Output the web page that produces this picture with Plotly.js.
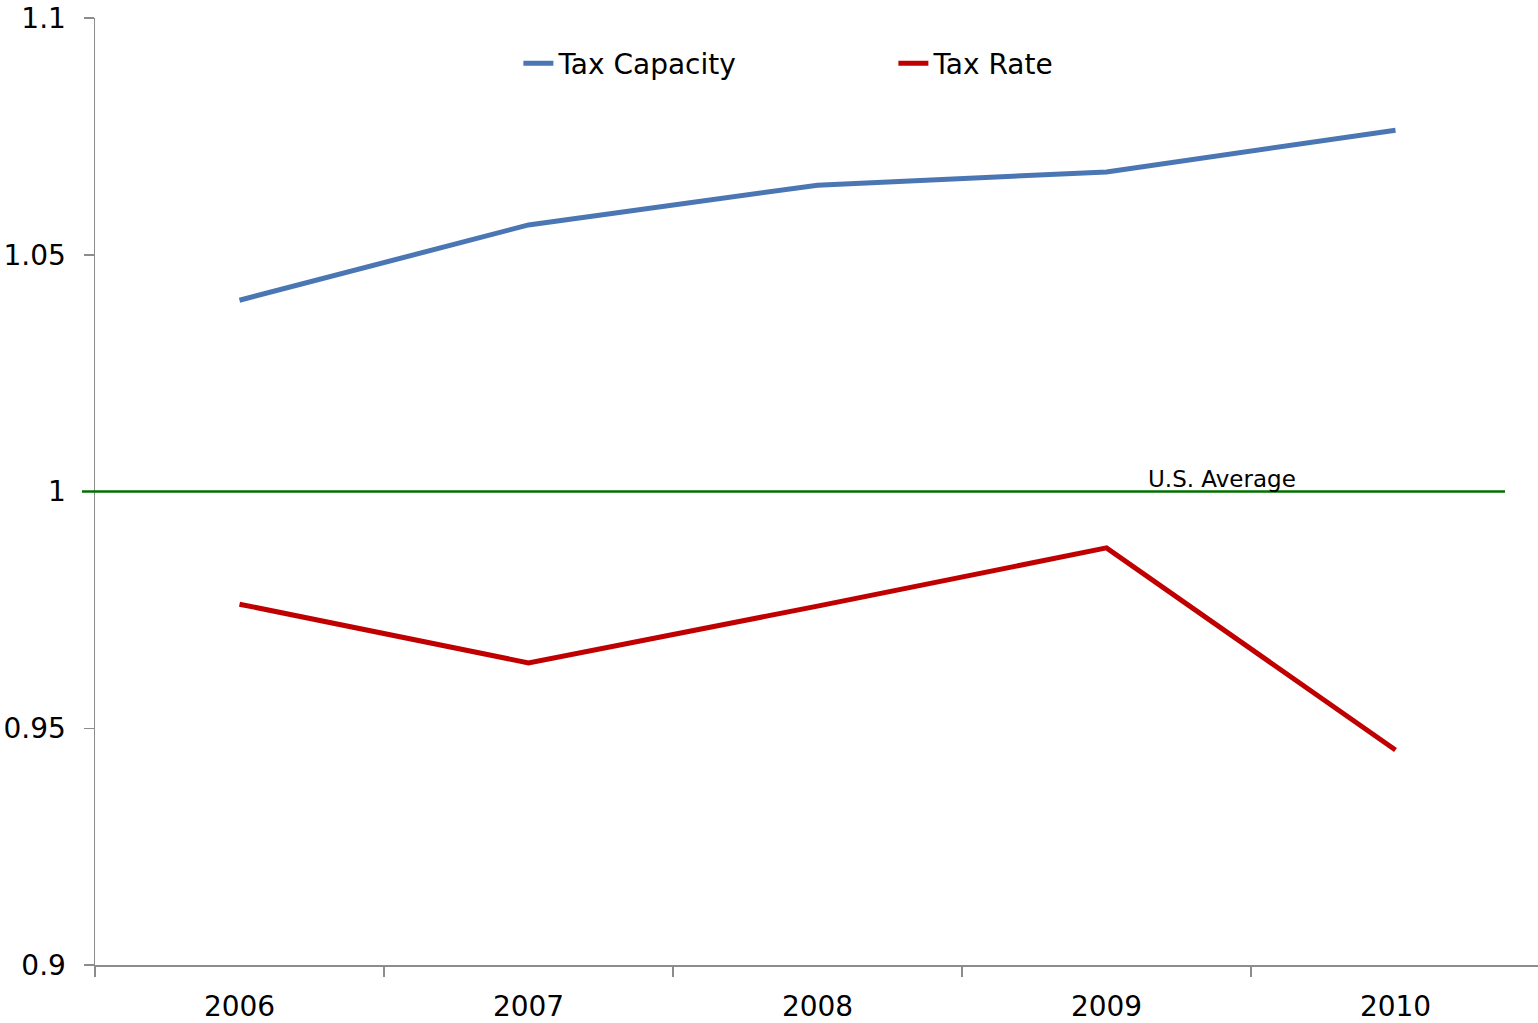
<!DOCTYPE html>
<html>
<head>
<meta charset="utf-8">
<script src="https://cdn.plot.ly/plotly-3.0.1.min.js"></script>
<style>html,body{margin:0;padding:0;background:#fff;overflow:hidden;}#chart{width:1540px;height:1023px;}</style>
</head>
<body>
<div id="chart"></div>
<script>
const years = ["2006", "2007", "2008", "2009", "2010"];
const taxCapacity = [1.0404, 1.0563, 1.0647, 1.0675, 1.0763];
const taxRate = [0.9762, 0.9638, 0.9758, 0.9881, 0.9454];
const usAverage = 1;
const yTickVals = [0.9, 0.95, 1, 1.05, 1.1];
const yTickText = ["0.9", "0.95", "1", "1.05", "1.1"];

const font = "DejaVu Sans, Verdana, sans-serif";

const traces = [
  {x: years, y: taxCapacity, name: "Tax Capacity", type: "scatter", mode: "lines",
   line: {color: "#4a76b4", width: 5}},
  {x: years, y: taxRate, name: "Tax Rate", type: "scatter", mode: "lines",
   line: {color: "#c00000", width: 5}}
];

const layout = {
  width: 1540, height: 1023,
  margin: {l: 95, r: 0, t: 18, b: 58},
  paper_bgcolor: "#fff", plot_bgcolor: "#fff",
  font: {family: font, color: "#000", size: 28},
  showlegend: true,
  legend: {orientation: "h", x: 0.293, xanchor: "left", y: 0.952, yanchor: "middle",
           font: {size: 28, family: font}, entrywidth: 330,
           bgcolor: "rgba(0,0,0,0)"},
  xaxis: {type: "category", range: [-0.5, 4.5], showgrid: false, zeroline: false,
          showline: true, linecolor: "#8c8c8c", linewidth: 1.5,
          ticks: "outside", tickson: "boundaries", ticklen: 10, tickcolor: "#8c8c8c", tickwidth: 1.5,
          tickfont: {size: 28, family: font}, ticklabelstandoff: 16},
  yaxis: {range: [0.9, 1.1], tickvals: yTickVals, ticktext: yTickText, showgrid: false, zeroline: false,
          showline: true, linecolor: "#8c8c8c", linewidth: 1.5,
          ticks: "outside", ticklen: 10, tickcolor: "#8c8c8c", tickwidth: 1.5,
          tickfont: {size: 28, family: font}, ticklabelstandoff: 12},
  shapes: [
    {type: "line", xref: "paper", yref: "y", x0: -0.009, x1: 0.9758, y0: usAverage, y1: usAverage,
     line: {color: "#007000", width: 2.5}}
  ],
  annotations: [
    {xref: "paper", yref: "y", x: 0.7799, y: usAverage, xanchor: "center", yanchor: "bottom",
     text: "U.S. Average", showarrow: false, font: {size: 23, family: font, color: "#000"}, yshift: -2}
  ]
};

Plotly.newPlot("chart", traces, layout, {displayModeBar: false, staticPlot: true});
</script>
</body>
</html>
